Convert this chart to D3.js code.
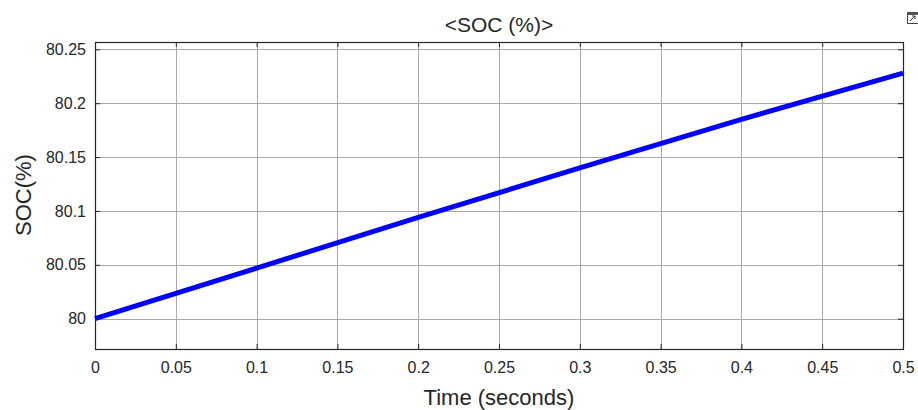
<!DOCTYPE html>
<html>
<head>
<meta charset="utf-8">
<script src="https://cdn.jsdelivr.net/npm/d3@7"></script>
<style>
  body { margin: 0; background: #fff; }
  svg { display: block; font-family: "Liberation Sans", Arial, sans-serif; }
</style>
</head>
<body>
<svg width="918" height="410"></svg>
<script>
// values
var timeValues = [0, 0.1, 0.2, 0.3, 0.4, 0.5];
var socValues = [80, 80.047, 80.094, 80.140, 80.185, 80.228];
var xTicks = [0, 0.05, 0.1, 0.15, 0.2, 0.25, 0.3, 0.35, 0.4, 0.45, 0.5];
var yTicks = [80, 80.05, 80.1, 80.15, 80.2, 80.25];

var svg = d3.select('svg');
var plotL = 95, plotR = 903, plotT = 42, plotB = 349;

var x = d3.scaleLinear().domain([0, 0.5]).range([plotL, plotR]);
var y = d3.scaleLinear().domain([79.9719, 80.2568]).range([plotB, plotT]);

// grid
var grid = svg.append('g').attr('stroke', '#a8a8a8').attr('stroke-width', 1);
grid.selectAll('line.gx')
  .data(xTicks.slice(1, -1))
  .enter()
  .append('line')
  .attr('x1', function (d) { return Math.round(x(d)) + 0.5; })
  .attr('x2', function (d) { return Math.round(x(d)) + 0.5; })
  .attr('y1', plotT)
  .attr('y2', plotB);
grid.selectAll('line.gy')
  .data(yTicks)
  .enter()
  .append('line')
  .attr('y1', function (d) { return Math.round(y(d)) + 0.5; })
  .attr('y2', function (d) { return Math.round(y(d)) + 0.5; })
  .attr('x1', plotL)
  .attr('x2', plotR);

// axes with inward ticks
var xAxis = d3.axisBottom(x).tickValues(xTicks).tickSizeInner(-5).tickSizeOuter(0)
  .tickPadding(13).tickFormat(function (d) { return d3.format('')(d); });
svg.append('g')
  .attr('transform', 'translate(0,' + plotB + ')')
  .call(xAxis);

var yAxis = d3.axisLeft(y).tickValues(yTicks).tickSizeInner(-5).tickSizeOuter(0)
  .tickPadding(9).tickFormat(function (d) { return d3.format('')(+d.toFixed(2)); });
svg.append('g')
  .attr('transform', 'translate(' + plotL + ',0)')
  .call(yAxis);

var xAxisR = d3.axisTop(x).tickValues(xTicks).tickSizeInner(-5).tickSizeOuter(0).tickFormat('');
svg.append('g').attr('transform', 'translate(0,' + plotT + ')').call(xAxisR);
var yAxisR = d3.axisRight(y).tickValues(yTicks).tickSizeInner(-5).tickSizeOuter(0).tickFormat('');
svg.append('g').attr('transform', 'translate(' + plotR + ',0)').call(yAxisR);

svg.selectAll('.domain').remove();
svg.selectAll('.tick line').attr('stroke', '#262626');
svg.selectAll('.tick text').attr('font-size', 16).attr('fill', '#262626');

// box
svg.append('rect')
  .attr('x', plotL + 0.5)
  .attr('y', plotT + 0.5)
  .attr('width', plotR - plotL)
  .attr('height', plotB - plotT)
  .attr('fill', 'none')
  .attr('stroke', '#262626')
  .attr('stroke-width', 1.2);

// signal line
var line = d3.line()
  .x(function (d, i) { return x(timeValues[i]); })
  .y(function (d) { return y(d); });
svg.append('path')
  .datum(socValues)
  .attr('d', line)
  .attr('fill', 'none')
  .attr('stroke', '#0000ff')
  .attr('stroke-width', 5);

// texts
svg.append('text')
  .attr('x', (plotL + plotR) / 2)
  .attr('y', 32)
  .attr('text-anchor', 'middle')
  .attr('font-size', 21)
  .attr('fill', '#262626')
  .text('<SOC (%)>');

svg.append('text')
  .attr('x', (plotL + plotR) / 2)
  .attr('y', 405)
  .attr('text-anchor', 'middle')
  .attr('font-size', 22)
  .attr('fill', '#262626')
  .text('Time (seconds)');

svg.append('text')
  .attr('transform', 'translate(31,195) rotate(-90)')
  .attr('text-anchor', 'middle')
  .attr('font-size', 22)
  .attr('fill', '#262626')
  .text('SOC(%)');

// small undock icon
var icon = svg.append('g').attr('transform', 'translate(907,12)');
icon.append('rect').attr('x', 0.5).attr('y', 0.5).attr('width', 11).attr('height', 11)
  .attr('fill', '#fff').attr('stroke', '#444');
icon.append('rect').attr('x', 0.5).attr('y', 0.5).attr('width', 11).attr('height', 2.5)
  .attr('fill', '#555');
icon.append('path').attr('d', 'M3,9 L8,4 M5,4 L8,4 L8,7').attr('stroke', '#333')
  .attr('fill', 'none');
</script>
</body>
</html>
